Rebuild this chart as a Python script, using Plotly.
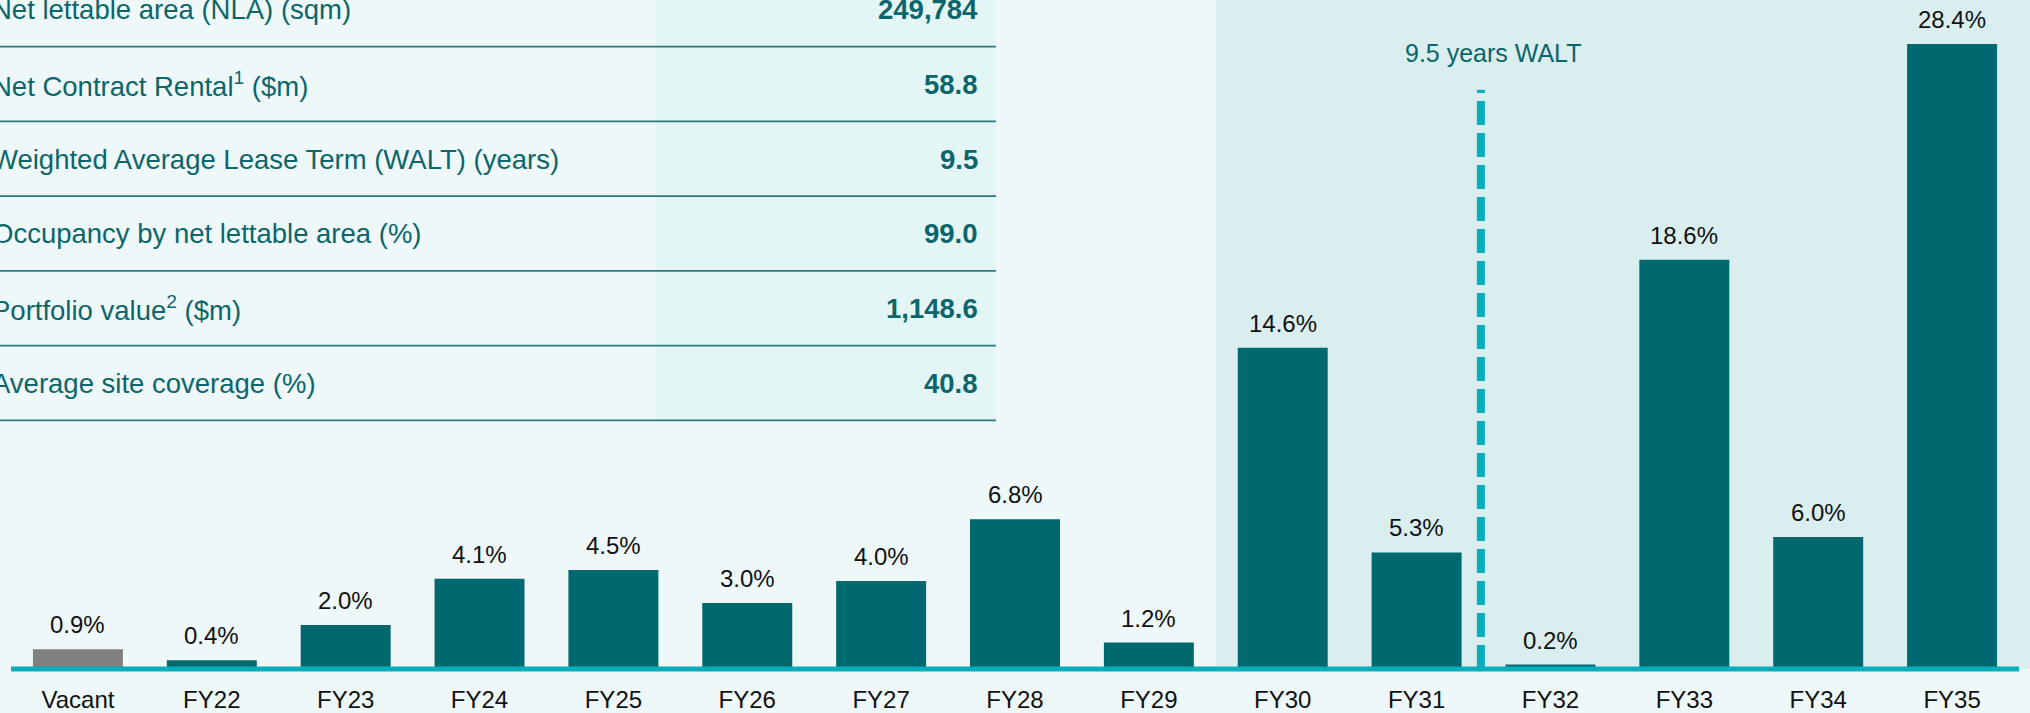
import plotly.graph_objects as go

# ---------------- data ----------------
categories = ["Vacant", "FY22", "FY23", "FY24", "FY25", "FY26", "FY27", "FY28",
              "FY29", "FY30", "FY31", "FY32", "FY33", "FY34", "FY35"]
expiry_pct = [0.9, 0.4, 2.0, 4.1, 4.5, 3.0, 4.0, 6.8, 1.2, 14.6, 5.3, 0.2, 18.6, 6.0, 28.4]
bar_labels = [f"{v:.1f}%" for v in expiry_pct]

table_labels = [
    "Net lettable area (NLA) (sqm)",
    "Net Contract Rental<sup>1</sup> ($m)",
    "Weighted Average Lease Term (WALT) (years)",
    "Occupancy by net lettable area (%)",
    "Portfolio value<sup>2</sup> ($m)",
    "Average site coverage (%)",
]
table_values = ["249,784", "58.8", "9.5", "99.0", "1,148.6", "40.8"]

walt_years = 9.5
walt_label = f"{walt_years} years WALT"
walt_position = 10.48      # category-axis position of the WALT marker
shade_start = 8.5          # category-axis position where the shaded band starts

# ---------------- styling ----------------
W, H = 2030, 713
ML, MR, MT, MB = 11, 11, 0, 42
PLOT_W = W - ML - MR
PLOT_H = H - MT - MB
PX_PER_PCT = 22.07
Y_MAX = PLOT_H / PX_PER_PCT

BG = "#EFF8F9"
SHADE = "#DAEEF0"
COL_SHADE = "#E3F5F5"
BAR = "#00686F"
GREY = "#808080"
AXIS = "#0AAEBB"
TEAL_TXT = "#0B666C"
LINE = "#2A7B80"
FONT = "Arial, Liberation Sans, sans-serif"


def px_x(px):
    return (px - ML) / PLOT_W


def px_y(py):
    return (MT + PLOT_H - py) / PLOT_H


n = len(categories)
bar_colors = [GREY if c == "Vacant" else BAR for c in categories]

fig = go.Figure()
fig.add_trace(go.Bar(
    x=categories, y=expiry_pct, marker=dict(color=bar_colors, line=dict(width=0)),
    width=0.672, hoverinfo="x+y", showlegend=False,
))

shapes = []
annotations = []

# shaded band behind the later years
shapes.append(dict(type="rect", xref="paper", yref="paper",
                   x0=(shade_start + 0.5) / n, x1=1.02, y0=0, y1=1.0,
                   fillcolor=SHADE, line=dict(width=0), layer="below"))

# table: value column shading
row_h = 75
first_line = 46.7
shapes.append(dict(type="rect", xref="paper", yref="paper",
                   x0=px_x(656), x1=px_x(996), y0=px_y(first_line + row_h * 5), y1=1.0,
                   fillcolor=COL_SHADE, line=dict(width=0), layer="below"))

for i, (lab, val) in enumerate(zip(table_labels, table_values)):
    cy = first_line + row_h * i - 37.2
    annotations.append(dict(xref="paper", yref="paper", x=px_x(-10), y=px_y(cy),
                            xanchor="left", yanchor="middle", text=lab, showarrow=False,
                            font=dict(family=FONT, size=27.5, color=TEAL_TXT)))
    annotations.append(dict(xref="paper", yref="paper", x=px_x(980), y=px_y(cy),
                            xanchor="right", yanchor="middle", text=f"<b>{val}</b>",
                            showarrow=False,
                            font=dict(family=FONT, size=27.5, color=TEAL_TXT)))
    ly = first_line + row_h * i
    shapes.append(dict(type="line", xref="paper", yref="paper",
                       x0=px_x(0), x1=px_x(996), y0=px_y(ly), y1=px_y(ly),
                       line=dict(color=LINE, width=1.8), layer="below"))

# WALT dashed marker
shapes.append(dict(type="line", xref="x", yref="y",
                   x0=walt_position, x1=walt_position, y0=0, y1=(PLOT_H - 90) / PX_PER_PCT,
                   line=dict(color=AXIS, width=8, dash="24px,8px"), layer="below"))
annotations.append(dict(xref="paper", yref="paper", x=px_x(1492.5), y=px_y(53.5),
                        xanchor="center", yanchor="middle", text=walt_label,
                        showarrow=False, font=dict(family=FONT, size=25, color=TEAL_TXT)))

# bar value labels
for c, v, t in zip(categories, expiry_pct, bar_labels):
    annotations.append(dict(x=c, y=v, xref="x", yref="y", text=t, showarrow=False,
                            xanchor="center", yanchor="bottom", yshift=9,
                            font=dict(family=FONT, size=24, color="#111111")))

# baseline axis line (paper refs so it is not clipped by the plot area)
shapes.append(dict(type="line", xref="paper", yref="paper",
                   x0=0, x1=1, y0=0, y1=0,
                   line=dict(color=AXIS, width=5.2), layer="above"))

fig.update_layout(
    width=W, height=H, autosize=False,
    margin=dict(l=ML, r=MR, t=MT, b=MB, pad=0),
    paper_bgcolor=BG, plot_bgcolor=BG,
    shapes=shapes, annotations=annotations,
    bargap=0.328,
    xaxis=dict(type="category", categoryorder="array", categoryarray=categories,
               range=[-0.5, n - 0.5], showgrid=False, zeroline=False, showline=False,
               ticks="", ticklabelstandoff=14,
               tickfont=dict(family=FONT, size=24, color="#111111"), fixedrange=True),
    yaxis=dict(range=[0, Y_MAX], visible=False, showgrid=False, zeroline=False,
               fixedrange=True),
    font=dict(family=FONT),
)

fig.write_html("out.html")
